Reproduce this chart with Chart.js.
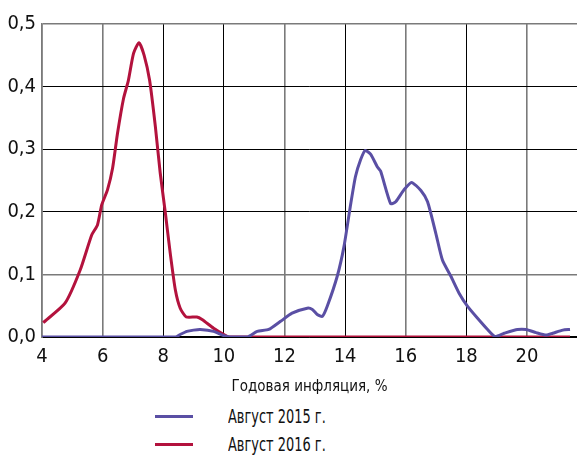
<!DOCTYPE html>
<html>
<head>
<meta charset="utf-8">
<script src="https://cdn.jsdelivr.net/npm/chart.js@4"></script>
<style>
  html, body { margin: 0; padding: 0; background: #fff; }
  #wrap { position: relative; width: 577px; height: 457px; }
  #chart { position: absolute; left: 0; top: 0; }
  #legend { position: absolute; left: 155px; top: 402px; font-family: "DejaVu Sans Condensed", "Liberation Sans Narrow", sans-serif; font-size: 20px; color: #111; }
  .row { display: flex; align-items: center; height: 28px; }
  .swatch { width: 38px; height: 3px; margin-right: 35px; }
  .txt { display: inline-block; transform: scaleX(0.72); transform-origin: left center; white-space: nowrap; }
</style>
</head>
<body>
<div id="wrap">
  <canvas id="chart" width="577" height="400"></canvas>
  <div id="legend"></div>
</div>
<script>
const FONT = '"DejaVu Sans Condensed", "Liberation Sans Narrow", sans-serif';

const xTicks = [4, 6, 8, 10, 12, 14, 16, 18, 20];
const yTicks = [0, 0.1, 0.2, 0.3, 0.4, 0.5];

const seriesNames = ['Август 2015 г.', 'Август 2016 г.'];
const seriesColors = ['#5a4fa4', '#b3123d'];

// Август 2015 г.
const x2015 = [4.0, 8.40, 8.56, 8.78, 9.0, 9.22, 9.66, 10.0, 10.2, 10.77, 11.1, 11.48, 11.87, 12.25, 12.75, 12.92, 13.08, 13.25, 13.41, 13.74, 13.96, 14.17, 14.34, 14.51, 14.66, 14.84, 15.06, 15.17, 15.50, 15.67, 15.94, 16.19, 16.50, 16.72, 16.99, 17.21, 17.49, 17.76, 18.04, 18.37, 18.70, 18.94, 19.25, 19.69, 19.97, 20.30, 20.63, 20.85, 21.18, 21.42];
const y2015 = [0, 0, 0.004, 0.009, 0.011, 0.012, 0.009, 0.002, 0, 0, 0.009, 0.012, 0.025, 0.038, 0.046, 0.044, 0.036, 0.033, 0.049, 0.097, 0.144, 0.208, 0.256, 0.283, 0.298, 0.292, 0.272, 0.265, 0.213, 0.216, 0.235, 0.247, 0.234, 0.216, 0.166, 0.123, 0.097, 0.070, 0.049, 0.030, 0.012, 0.001, 0.006, 0.012, 0.012, 0.007, 0.003, 0.006, 0.011, 0.012];

// Август 2016 г.
const x2016 = [4.04, 4.76, 5.26, 5.64, 5.83, 5.97, 6.16, 6.33, 6.49, 6.69, 6.85, 7.02, 7.20, 7.37, 7.55, 7.74, 7.90, 8.07, 8.23, 8.40, 8.56, 8.76, 9.11, 9.28, 9.66, 10.0, 10.16, 21.42];
const y2016 = [0.023, 0.054, 0.107, 0.163, 0.179, 0.211, 0.235, 0.270, 0.325, 0.381, 0.410, 0.453, 0.470, 0.450, 0.410, 0.336, 0.262, 0.198, 0.134, 0.075, 0.046, 0.032, 0.032, 0.028, 0.014, 0.004, 0, 0];

function _pts(xs, ys) {
  return xs.map((x, i) => ({ x, y: ys[i] }));
}

// some grid lines are printed grey, the rest black
const greyX = [4, 6, 12, 16, 20];
const greyY = [0.1, 0.5];

const ctx = document.getElementById('chart');
new Chart(ctx.getContext('2d'), {
  type: 'line',
  data: {
    datasets: [
      { label: seriesNames[0], data: _pts(x2015, y2015), borderColor: seriesColors[0] },
      { label: seriesNames[1], data: _pts(x2016, y2016), borderColor: seriesColors[1] }
    ]
  },
  options: {
    responsive: false,
    animation: false,
    layout: { padding: { top: 24, right: 0, left: 0, bottom: 0 } },
    elements: {
      point: { radius: 0 },
      line: { borderWidth: 3, tension: 0.2, fill: false }
    },
    plugins: { legend: { display: false }, tooltip: { enabled: false } },
    scales: {
      x: {
        type: 'linear',
        min: 4,
        max: 21.65,
        afterBuildTicks: s => { s.ticks = xTicks.map(v => ({ value: v })); },
        afterFit: s => { s.height = 63; },
        grid: {
          drawTicks: false,
          color: c => greyX.includes(c.tick && c.tick.value) ? '#7a7a7a' : '#000',
          lineWidth: c => greyX.includes(c.tick && c.tick.value) ? 1.6 : 1
        },
        border: { color: '#000', width: 1.5 },
        ticks: { padding: 8, color: '#111', font: { family: FONT, size: 20 } },
        title: { display: true, text: 'Годовая инфляция, %', color: '#111', padding: { top: 12 }, font: { family: FONT, size: 15 } }
      },
      y: {
        min: 0,
        max: 0.5,
        afterBuildTicks: s => { s.ticks = yTicks.map(v => ({ value: v })); },
        afterFit: s => { s.width = 42; },
        grid: {
          drawTicks: false,
          color: c => greyY.includes(c.tick && c.tick.value) ? '#7a7a7a' : '#000',
          lineWidth: c => greyY.includes(c.tick && c.tick.value) ? 1.6 : 1
        },
        border: { color: '#7a7a7a', width: 1.6 },
        ticks: {
          padding: 6, color: '#111', font: { family: FONT, size: 20 },
          callback: v => v.toFixed(1).replace('.', ',')
        }
      }
    }
  }
});

// legend, one entry per row
const lg = document.getElementById('legend');
seriesNames.forEach((name, i) => {
  const row = document.createElement('div');
  row.className = 'row';
  const sw = document.createElement('span');
  sw.className = 'swatch';
  sw.style.background = seriesColors[i];
  const tx = document.createElement('span');
  tx.className = 'txt';
  tx.textContent = name;
  row.appendChild(sw);
  row.appendChild(tx);
  lg.appendChild(row);
});
</script>
</body>
</html>
